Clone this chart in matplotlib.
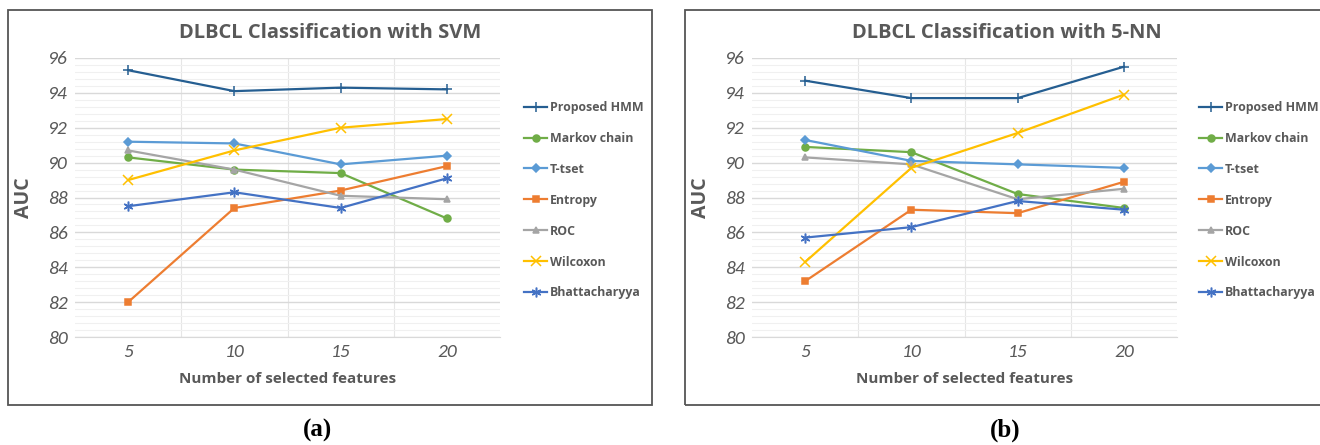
import numpy as np
import matplotlib
matplotlib.use("Agg")
import matplotlib.pyplot as plt
from matplotlib.patches import Rectangle
from matplotlib.ticker import MultipleLocator

# data
features = ["5", "10", "15", "20"]
methods = ["Proposed HMM", "Markov chain", "T-tset", "Entropy", "ROC", "Wilcoxon", "Bhattacharyya"]

svm_hmm = [95.3, 94.1, 94.3, 94.2]
svm_markov = [90.3, 89.6, 89.4, 86.8]
svm_ttest = [91.2, 91.1, 89.9, 90.4]
svm_entropy = [82.0, 87.4, 88.4, 89.8]
svm_roc = [90.7, 89.6, 88.1, 87.9]
svm_wilcoxon = [89.0, 90.7, 92.0, 92.5]
svm_bhatta = [87.5, 88.3, 87.4, 89.1]

knn_hmm = [94.7, 93.7, 93.7, 95.5]
knn_markov = [90.9, 90.6, 88.2, 87.4]
knn_ttest = [91.3, 90.1, 89.9, 89.7]
knn_entropy = [83.2, 87.3, 87.1, 88.9]
knn_roc = [90.3, 89.9, 87.9, 88.5]
knn_wilcoxon = [84.3, 89.7, 91.7, 93.9]
knn_bhatta = [85.7, 86.3, 87.8, 87.3]

colors = ["#255E91", "#70AD47", "#5B9BD5", "#ED7D31", "#A5A5A5", "#FFC000", "#4472C4"]
markers = ["+", "o", "D", "s", "^", "x", (6, 2, 0)]
msizes = [7, 5, 4, 5, 5, 7, 7]

txt_col = "#595959"
narrow = ["Carlito", "Roboto", "DejaVu Sans"]
bold_font = ["Open Sans", "DejaVu Sans"]

fig = plt.figure(figsize=(13.2, 4.45), dpi=100)


def px(x0, y0, x1, y1):
    # pixel box -> figure fraction
    return [x0 / 1320, 1 - y1 / 445, (x1 - x0) / 1320, (y1 - y0) / 445]


def panel(box, series, title, title_x, legend_x):
    ax = fig.add_axes(px(*box))
    x = np.arange(1, len(features) + 1)
    for vals, name, c, m, ms in zip(series, methods, colors, markers, msizes):
        ax.plot(x, vals, color=c, marker=m, markersize=ms, lw=1.6, label=name,
                markeredgewidth=1.1)
    ax.set_xlim(0.5, 4.5)
    ax.set_ylim(80, 96)
    ax.yaxis.set_major_locator(MultipleLocator(2))
    ax.yaxis.set_minor_locator(MultipleLocator(0.4))
    ax.set_xticks(x)
    ax.set_xticklabels(features)
    ax.set_xticks([1.5, 2.5, 3.5], minor=True)
    ax.grid(which="major", axis="y", color="#D9D9D9", lw=1.0)
    ax.grid(which="minor", axis="y", color="#F0F0F0", lw=0.8)
    ax.grid(which="minor", axis="x", color="#E6E6E6", lw=0.8)
    ax.set_axisbelow(True)
    for s in ["top", "right", "left"]:
        ax.spines[s].set_visible(False)
    ax.spines["bottom"].set_color("#D9D9D9")
    ax.tick_params(which="both", length=0, colors=txt_col, labelsize=14, pad=5)
    for lab in ax.get_xticklabels() + ax.get_yticklabels():
        lab.set_family(narrow)
        lab.set_style("italic")
    ax.set_ylabel("AUC", fontsize=14, fontweight="bold", color=txt_col,
                  family=bold_font, labelpad=10)
    ax.set_xlabel("Number of selected features", fontsize=11, fontweight="bold",
                  color=txt_col, family=bold_font, labelpad=9)
    fig.text(title_x / 1320, 1 - 33 / 445, title, ha="center", va="center",
             fontsize=14.5, fontweight="bold", color=txt_col, family=bold_font)
    handles, labels = ax.get_legend_handles_labels()
    leg = fig.legend(handles, labels, loc="upper left",
                     bbox_to_anchor=(legend_x / 1320, 1 - 96 / 445),
                     frameon=False, fontsize=8.9, labelspacing=1.45,
                     handlelength=1.9, handletextpad=0.2, borderaxespad=0)
    for t in leg.get_texts():
        t.set_color(txt_col)
        t.set_fontweight("bold")
        t.set_family(bold_font)
    return ax


panel((75, 58, 500, 337),
      [svm_hmm, svm_markov, svm_ttest, svm_entropy, svm_roc, svm_wilcoxon, svm_bhatta],
      "DLBCL Classification with SVM", 330, 519)
panel((752, 58, 1177, 337),
      [knn_hmm, knn_markov, knn_ttest, knn_entropy, knn_roc, knn_wilcoxon, knn_bhatta],
      "DLBCL Classification with 5-NN", 1007, 1194)

# panel frames
for b in [(8, 10, 652, 405), (685, 10, 1330, 405)]:
    x0, y0, x1, y1 = b
    fig.patches.append(Rectangle((x0 / 1320, 1 - y1 / 445), (x1 - x0) / 1320, (y1 - y0) / 445,
                                 transform=fig.transFigure, fill=False,
                                 edgecolor="#555555", lw=1.3))

fig.text(317 / 1320, 1 - 430 / 445, "(a)", ha="center", va="center", fontsize=18,
         fontweight="bold", family=["Liberation Serif", "DejaVu Serif"])
fig.text(1005 / 1320, 1 - 430 / 445, "(b)", ha="center", va="center", fontsize=18,
         fontweight="bold", family=["Liberation Serif", "DejaVu Serif"])

fig.savefig("out.png", dpi=100)
